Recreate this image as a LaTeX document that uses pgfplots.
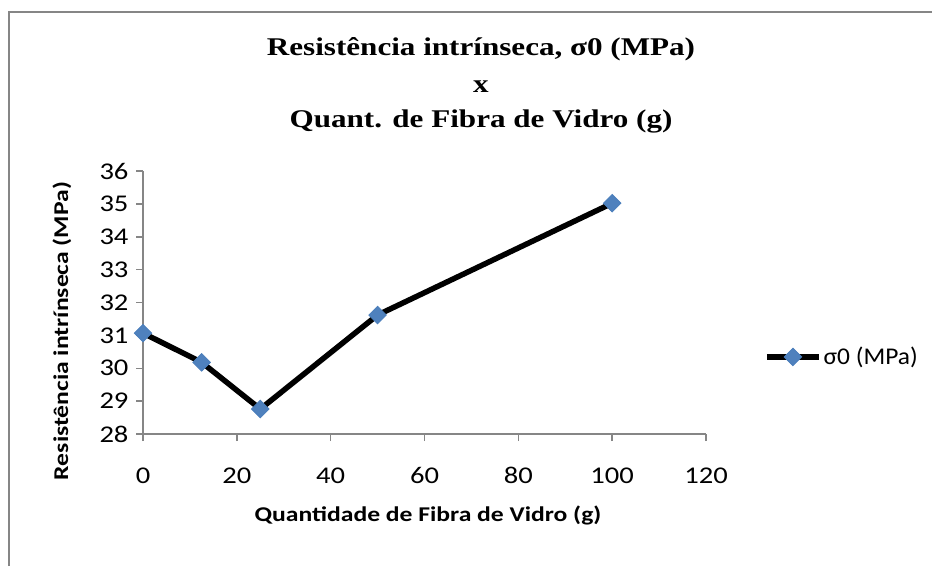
\documentclass[border=0pt]{standalone}
\usepackage{pgfplots}
\pgfplotsset{compat=1.18}
\usepackage{fontspec}
\setmainfont{Carlito}
% the reference text is drawn a little wider than it is tall
\newfontfamily\tickfont{Carlito}[FakeStretch=1.19]
\newfontfamily\labelfont{Carlito}[FakeStretch=1.22]
\newfontfamily\legfont{Carlito}[FakeStretch=1.06]
\newfontfamily\titlefont{Liberation Serif}[FakeStretch=1.22]
\definecolor{axisgray}{HTML}{868686}
\definecolor{markblue}{HTML}{4F81BD}
\definecolor{markedge}{HTML}{4A7EBB}

\begin{document}
\begin{tikzpicture}
% page frame, 1pt = 1px of the reference
\path[use as bounding box] (0pt,0pt) rectangle (932pt,-566pt);
\draw[axisgray, line width=2pt] (9pt,-566pt) -- (9pt,-12pt) -- (932pt,-12pt);

\begin{axis}[
    at={(143pt,-434pt)}, anchor=south west,
    width=563pt, height=263pt, scale only axis,
    xmin=0, xmax=120,
    ymin=28, ymax=36,
    axis lines*=left,
    axis line style={draw=axisgray, line width=1.5pt},
    tick style={draw=axisgray, line width=1.5pt},
    tick align=outside,
    major tick length=7pt,
    xtick={0,20,...,120},
    ytick={28,29,...,36},
    /pgf/number format/assume math mode=true,
    ticklabel style={font=\tickfont\fontsize{24}{24}\selectfont},
    xticklabel style={yshift=-23pt},
    yticklabel style={xshift=-4pt},
    clip=false,
    legend style={at={(axis description cs:1.103,0.293)}, anchor=west,
        draw=none, fill=none, inner sep=0pt,
        font=\legfont\fontsize{24}{24}\selectfont,
        nodes={inner sep=2pt}},
    legend image code/.code={%
        \draw[mark repeat=2, mark phase=2, #1]
            plot coordinates {(0pt,0pt) (26pt,0pt) (52pt,0pt)};},
]
\addplot[black, line width=5.5pt,
    mark=square*, mark size=6.2pt,
    mark options={rotate=45, fill=markblue, draw=markedge, line width=0.8pt, solid}]
    coordinates {(0,31.07) (12.5,30.18) (25,28.76) (50,31.62) (100,35.02)};
\addlegendentry{σ0 (MPa)}
\end{axis}

\node[anchor=base, font=\titlefont\bfseries\fontsize{25.5}{25.5}\selectfont] at (481pt,-55pt) {Resistência intrínseca, σ0 (MPa)};
\node[anchor=base, font=\titlefont\bfseries\fontsize{25.5}{25.5}\selectfont] at (481pt,-92pt) {x};
\node[anchor=base, font=\titlefont\bfseries\fontsize{25.5}{25.5}\selectfont] at (481pt,-127pt) {Quant. de Fibra de Vidro (g)};

\node[anchor=base, font=\labelfont\bfseries\fontsize{21}{21}\selectfont] at (428pt,-521pt) {Quantidade de Fibra de Vidro (g)};
\node[anchor=base, rotate=90, font=\labelfont\bfseries\fontsize{21}{21}\selectfont] at (68pt,-331pt) {Resistência intrínseca (MPa)};
\end{tikzpicture}
\end{document}
